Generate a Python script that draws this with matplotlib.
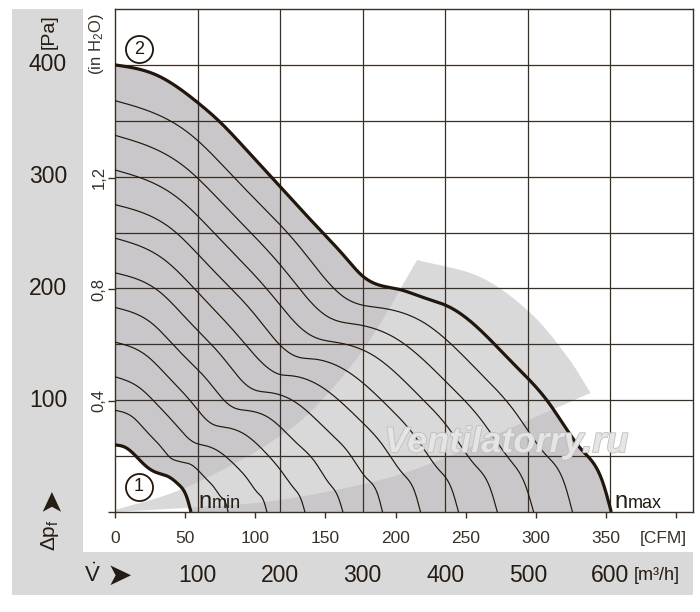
import numpy as np
import matplotlib
matplotlib.use("Agg")
import matplotlib.pyplot as plt
from matplotlib.patches import Polygon, Rectangle
import matplotlib.transforms as mtrans
import matplotlib.patheffects as pe

plt.rcParams['font.family'] = ['Liberation Sans', 'DejaVu Sans']
plt.rcParams['mathtext.fontset'] = 'custom'
plt.rcParams['mathtext.rm'] = 'Liberation Sans'
plt.rcParams['mathtext.it'] = 'Liberation Sans:italic'
plt.rcParams['mathtext.bf'] = 'Liberation Sans:bold'

# ---------------- data (flow in m3/h, pressure in Pa) ----------------
main_q = [0, 50, 99, 127, 164, 200, 245, 280, 300, 325, 345, 373, 406, 442, 482, 526, 566, 591, 601]
main_p = [400, 391, 367, 349, 320, 291, 255, 227, 211, 202, 199, 192, 183, 163, 133, 97, 55, 26, 0]

nmin_q = [0, 12, 24, 36, 48.5, 65.5, 77.6, 87.3, 92]
nmin_p = [60, 58, 51, 42, 35.8, 31.3, 24.2, 12.5, 0]

thin_q = [
    [0, 91, 151, 226, 276, 300, 318, 375, 444, 485, 522, 545, 554],
    [0, 84, 138, 207, 253, 274, 291, 343, 407, 444, 478, 498, 507],
    [0, 76, 126, 189, 231, 251, 266, 313, 371, 405, 436, 455, 463],
    [0, 69, 114, 170, 208, 225, 239, 281, 334, 364, 392, 409, 416],
    [0, 61, 101, 151, 185, 200, 212, 250, 297, 324, 349, 364, 370],
    [0, 54, 89, 132, 162, 175, 186, 219, 260, 284, 305, 319, 324],
    [0, 46, 75, 113, 138, 149, 158, 187, 221, 242, 260, 271, 276],
    [0, 38, 63, 94, 115, 124, 132, 156, 185, 201, 217, 226, 230],
    [0, 30, 50, 75, 92, 100, 106, 124, 148, 161, 173, 181, 184],
    [0, 23, 37, 56, 68, 74, 79, 93, 110, 120, 129, 135, 137],
]
thin_p = [
    [368, 338, 294, 235, 193, 185, 183, 169, 123, 89, 51, 24, 0],
    [337, 309, 270, 215, 177, 170, 168, 154, 112, 82, 47, 22, 0],
    [306, 281, 245, 195, 161, 154, 152, 140, 102, 74, 42, 20, 0],
    [275, 253, 220, 176, 144, 138, 137, 126, 92, 67, 38, 18, 0],
    [245, 225, 196, 156, 129, 123, 122, 112, 82, 60, 34, 16, 0],
    [214, 197, 171, 137, 112, 108, 107, 98, 71, 52, 30, 14, 0],
    [183, 168, 146, 117, 96, 92, 91, 84, 61, 45, 25, 12, 0],
    [152, 140, 122, 97, 80, 77, 76, 70, 51, 37, 21, 10, 0],
    [121, 111, 97, 77, 64, 61, 60, 55, 40, 29, 17, 8, 0],
    [91, 84, 73, 58, 48, 46, 45, 42, 30, 22, 13, 6, 0],
]

# light decorative band (upper edge, end arc, lower edge)
band_upper = [(0, 1.8), (69, 17), (130, 37.6), (187, 61.7), (239, 91.3), (303, 147.7), (366, 225.5)]
band_arc = [(366, 225.5), (442, 210.3), (503, 178.1), (548, 138.7), (576, 106.5)]
band_lower = [(576, 106.5), (482, 76.1), (402, 49.2), (321, 28.6), (200, 10.7), (103, 4.5), (0, 0)]

pa_labels = [100, 200, 300, 400]
m3h_labels = [100, 200, 300, 400, 500, 600]
cfm_ticks = [0, 50, 100, 150, 200, 250, 300, 350, 400]
cfm_ticklabels = ['0', '50', '100', '150', '200', '250', '300', '350', '']
inh2o_ticks = [0, 0.4, 0.8, 1.2]
inh2o_ticklabels = ['', '0,4', '0,8', '1,2']

CFM_TO_M3H = 1.699
PA_PER_INH2O = 249.09

# ---------------- helpers ----------------
def spline(x, y, n=500):
    """natural cubic spline through the points (for smooth drawing)"""
    x = np.asarray(x, float); y = np.asarray(y, float)
    N = len(x); h = np.diff(x)
    A = np.zeros((N, N)); b = np.zeros(N)
    A[0, 0] = 1; A[-1, -1] = 1
    for i in range(1, N - 1):
        A[i, i - 1] = h[i - 1]; A[i, i] = 2 * (h[i - 1] + h[i]); A[i, i + 1] = h[i]
        b[i] = 6 * ((y[i + 1] - y[i]) / h[i] - (y[i] - y[i - 1]) / h[i - 1])
    M = np.linalg.solve(A, b)
    xs = np.linspace(x[0], x[-1], n)
    i = np.clip(np.searchsorted(x, xs, 'right') - 1, 0, N - 2)
    dx = xs - x[i]; hi = h[i]
    a = y[i]
    bb = (y[i + 1] - y[i]) / hi - hi * (2 * M[i] + M[i + 1]) / 6
    c = M[i] / 2
    d = (M[i + 1] - M[i]) / (6 * hi)
    return xs, a + bb * dx + c * dx**2 + d * dx**3

SX, SY = 0.825, 1.1175  # px per unit (for isotropic spline)
def catmull(pts, n=24):
    P = np.array(pts, float) * [SX, SY]
    P = np.vstack([2 * P[0] - P[1], P, 2 * P[-1] - P[-2]])
    out = []
    t = np.linspace(0, 1, n, endpoint=False)[:, None]
    for i in range(1, len(P) - 2):
        p0, p1, p2, p3 = P[i - 1], P[i], P[i + 1], P[i + 2]
        out.append(0.5 * (2 * p1 + (-p0 + p2) * t + (2 * p0 - 5 * p1 + 4 * p2 - p3) * t**2
                          + (-p0 + 3 * p1 - 3 * p2 + p3) * t**3))
    out.append(P[-2:-1])
    return np.vstack(out) / [SX, SY]

# ---------------- figure ----------------
W, H = 700, 612
fig = plt.figure(figsize=(7.0, 6.12), dpi=100)
fig.patch.set_facecolor('white')
def fx(px): return px / W
def fy(py): return 1 - py / H

BANDC = '#d9d9d9'
FILL = '#c9c7c9'
LIGHT = '#d9d9d9'
GRID = '#3a2f25'
CURVE = '#22160c'
TXT = '#241b12'
TXT2 = '#3a3128'

fig.add_artist(Rectangle((fx(12), fy(595)), fx(83) - fx(12), fy(9) - fy(595),
                         transform=fig.transFigure, color=BANDC, lw=0, zorder=0))
fig.add_artist(Rectangle((fx(12), fy(595)), fx(693) - fx(12), fy(552) - fy(595),
                         transform=fig.transFigure, color=BANDC, lw=0, zorder=0))

ax = fig.add_axes([fx(115), fy(512), fx(693) - fx(115), fy(9) - fy(512)])
ax.set_xlim(0, 700)
ax.set_ylim(0, 450)
ax.set_facecolor('white')
ax.set_xticks(range(100, 700, 100))
ax.set_yticks(range(50, 450, 50))
ax.tick_params(length=0, labelbottom=False, labelleft=False)
ax.grid(True, color=GRID, lw=0.9)
ax.set_axisbelow(False)
for s in ax.spines.values():
    s.set_color(GRID); s.set_linewidth(1.0)

# fills
mq, mp = spline(main_q, main_p)
ax.fill_between(mq, mp, 0, color=FILL, lw=0, zorder=1)
nq, npp = spline(nmin_q, nmin_p)
ax.fill_between(nq, npp, 0, color='white', lw=0, zorder=1.1)

band = np.vstack([catmull(band_upper), catmull(band_arc), catmull(band_lower)])
ax.add_patch(Polygon(band, closed=True, color=LIGHT, lw=0, zorder=1.2))

# thin curves
for q, p in zip(thin_q, thin_p):
    xs, ys = spline(q, p)
    ax.plot(xs, ys, color=CURVE, lw=0.85, zorder=3)

ax.plot(mq, mp, color=CURVE, lw=2.3, zorder=4, solid_capstyle='butt')
ax.plot(nq, npp, color=CURVE, lw=2.3, zorder=4, solid_capstyle='butt')

# watermark
ax.text(474, 62, 'Ventilatorry.ru', fontsize=26, style='italic', weight='bold',
        color='#e6e6e6', ha='center', va='center', zorder=5, alpha=0.95,
        path_effects=[pe.withStroke(linewidth=1.2, foreground='#bdbdbd')])

# circled numbers
for (cq, cp, lab) in [(29, 414, '2'), (29, 22.4, '1')]:
    ax.plot(cq, cp, marker='o', ms=19.5, mfc='none', mec=CURVE, mew=1.3, zorder=6, clip_on=False)
    ax.text(cq, cp, lab, fontsize=13, ha='center', va='center', color=CURVE, zorder=6)

# n_min / n_max
ax.text(100.5, 3.6, 'n', fontsize=17, ha='left', va='baseline', color=TXT, zorder=6)
ax.text(117, 3.6, 'min', fontsize=13, ha='left', va='baseline', color=TXT, zorder=6)
ax.text(604.5, 3.6, 'n', fontsize=17, ha='left', va='baseline', color=TXT, zorder=6, clip_on=False)
ax.text(621, 3.6, 'max', fontsize=13, ha='left', va='baseline', color=TXT, zorder=6, clip_on=False)

# CFM secondary axis
secx = ax.secondary_xaxis('bottom', functions=(lambda m: m / CFM_TO_M3H, lambda c: c * CFM_TO_M3H))
secx.set_xticks(cfm_ticks)
secx.set_xticklabels(cfm_ticklabels)
secx.tick_params(direction='out', length=4.5, width=1.0, color=GRID, pad=9,
                 labelsize=12.5, labelcolor=TXT2)
secx.spines['bottom'].set_visible(False)

# in H2O secondary axis
secy = ax.secondary_yaxis('left', functions=(lambda pa: pa / PA_PER_INH2O, lambda w: w * PA_PER_INH2O))
secy.set_yticks(inh2o_ticks)
secy.set_yticklabels(inh2o_ticklabels)
secy.tick_params(direction='out', length=5, width=1.0, color=GRID, pad=1,
                 labelsize=12, labelcolor=TXT2)
for lab in secy.get_yticklabels():
    lab.set_rotation(90)
    lab.set_va('center')
secy.spines['left'].set_visible(False)

# Pa labels in left band
tr_y = mtrans.blended_transform_factory(fig.transFigure, ax.transData)
for v in pa_labels:
    ax.text(fx(48), v, str(v), transform=tr_y, fontsize=16.5, ha='center', va='center',
            color=TXT, clip_on=False)

# m3/h labels in bottom band
tr_x = mtrans.blended_transform_factory(ax.transData, fig.transFigure)
for v in m3h_labels:
    ax.text(v, fy(575), str(v), transform=tr_x, fontsize=16.5, ha='center', va='center',
            color=TXT, clip_on=False)

fig.text(fx(634), fy(575), '[m³/h]', fontsize=13, ha='left', va='center', color=TXT)
fig.text(fx(663), fy(538), '[CFM]', fontsize=12.5, ha='center', va='center', color=TXT2)
fig.text(fx(49), fy(32), '[Pa]', fontsize=14, rotation=90, ha='center', va='center', color=TXT)
fig.text(fx(97), fy(44), r'(in H$_2$O)', fontsize=12, rotation=90, ha='center', va='center', color=TXT2)
fig.text(fx(50), fy(535), r'Δp$_{\mathrm{f}}$', fontsize=15, rotation=90, ha='center', va='center', color=TXT)
fig.text(fx(51), fy(499), '➤', fontsize=21, rotation=90, ha='center', va='center', color=TXT,
         family='DejaVu Sans')
fig.text(fx(92), fy(575), r'$\mathrm{\dot{V}}$', fontsize=16, ha='center', va='center', color=TXT)
fig.text(fx(119), fy(576), '➤', fontsize=22, ha='center', va='center', color=TXT,
         family='DejaVu Sans')

fig.savefig('out.png', dpi=100, facecolor='white')
